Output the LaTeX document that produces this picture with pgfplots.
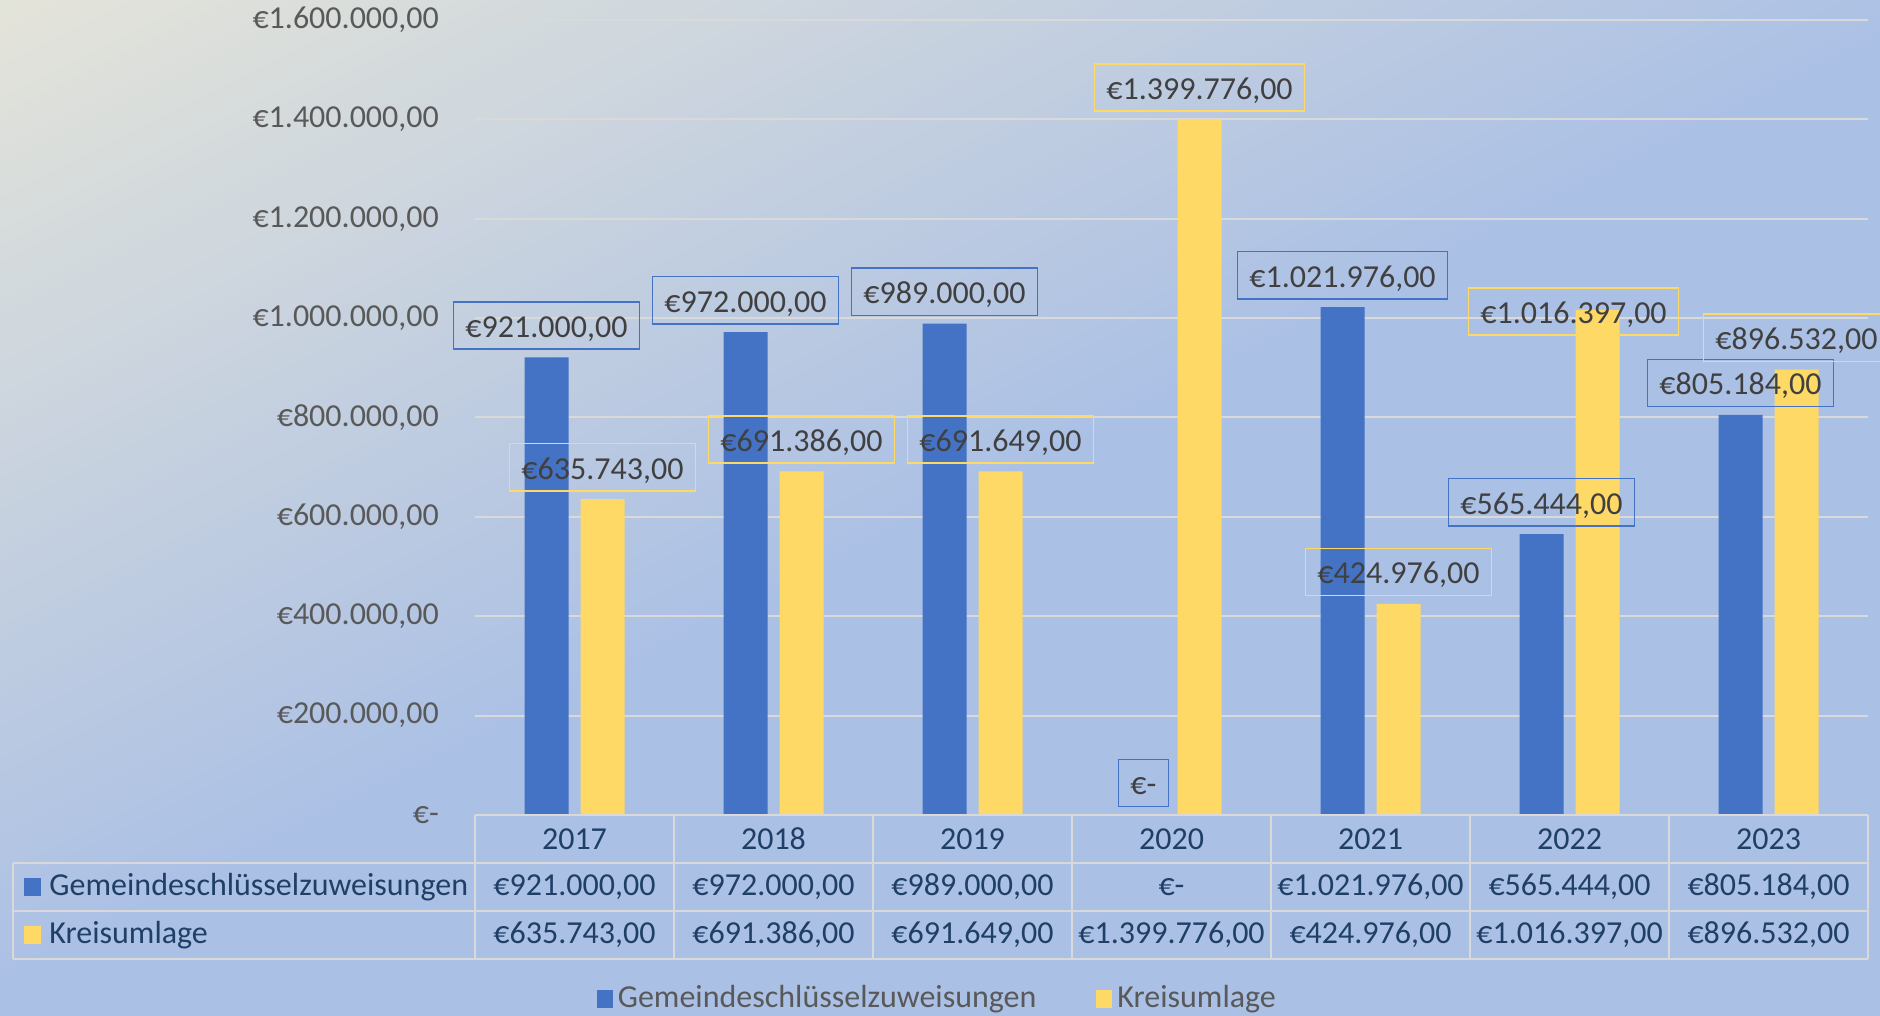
\documentclass[border=0pt]{standalone}
\usepackage{fontspec}
\setmainfont{Carlito}
\usepackage{pgfplots}
\usepackage{pgfplotstable}
\pgfplotsset{compat=1.18}

\definecolor{gsz}{HTML}{4472C4}
\definecolor{ku}{HTML}{FFD966}
\definecolor{bgA}{HTML}{E4E4D9}
\definecolor{bgB}{HTML}{ABC0E5}
\definecolor{gridc}{HTML}{D9D9D9}
\definecolor{ticktxt}{HTML}{595959}
\definecolor{lbltxt}{HTML}{404040}
\definecolor{tabtxt}{HTML}{1F3F66}

\pgfplotstableread{
x year gsz ku
0 2017 921000 635743
1 2018 972000 691386
2 2019 989000 691649
3 2020 0 1399776
4 2021 1021976 424976
5 2022 565444 1016397
6 2023 805184 896532
}\data

\newcommand\eur[1]{%
  \pgfmathfloatparse{#1}\let\eurv\pgfmathresult
  \pgfmathfloatifflags{\eurv}{0}{€-}{€\pgfmathprintnumber[fixed,fixed zerofill,precision=2,use comma,1000 sep={.},assume math mode=true]{\eurv}}}

\pgfplotsset{
  lbl/.style={
    nodes near coords={\eur{\pgfplotspointmeta}},
    every node near coord/.append style={draw=#1, line width=0.6pt, text=lbltxt,
      inner xsep=4.8pt, inner ysep=3.6pt, text height=10.6pt, text depth=1.1pt,
      anchor=south, yshift=3pt},
  },
}

\begin{document}
\fontsize{12.8pt}{15.4pt}\selectfont
\begin{tikzpicture}
% background: diagonal gradient from the top left corner, done in stripes
\begin{scope}
\clip (0,0) rectangle (752pt,406.4pt);
\fill[bgB] (0,0) rectangle (752pt,406.4pt);
\foreach \k in {0,...,59} {
  \pgfmathsetmacro\ta{\k/60}
  \pgfmathsetmacro\tb{(\k+1.3)/60}
  \pgfmathsetmacro\pc{100*(\k+0.5)/60}
  \fill[bgB!\pc!bgA] (0pt,406.4pt-396pt*\ta) -- (752pt,782.4pt-396pt*\ta)
    -- (752pt,782.4pt-396pt*\tb) -- (0pt,406.4pt-396pt*\tb) -- cycle;
}
\end{scope}

\begin{axis}[
  at={(190pt,80.4pt)}, anchor=south west,
  scale only axis, width=557.2pt, height=318pt,
  xmin=-0.5, xmax=6.5, ymin=0, ymax=1600000,
  ybar, bar width=17.6pt,
  xtick=\empty,
  ytick={0,200000,400000,600000,800000,1000000,1200000,1400000,1600000},
  scaled y ticks=false,
  yticklabel={\eur{\tick}},
  yticklabel style={text=ticktxt, xshift=-10pt},
  ymajorgrids, grid style={draw=gridc, line width=0.8pt},
  axis line style={draw=none},
  major tick length=0pt,
  clip=false,
  legend style={at={(0.333,-0.2314)}, anchor=center, draw=none, fill=none,
    text=ticktxt, legend columns=2, inner sep=0pt,
    /tikz/every even column/.append style={column sep=22pt}},
  legend image code/.code={\fill[#1] (0pt,-3.6pt) rectangle (6.4pt,3.6pt);},
]
\addplot[fill=gsz, draw=none, bar shift=-11.2pt] table[x=x,y=gsz]{\data};
\addplot[fill=ku, draw=none, bar shift=11.2pt] table[x=x,y=ku]{\data};
\legend{Gemeindeschlüsselzuweisungen, Kreisumlage}

% data labels drawn on top of all bars
\addplot[draw=none, fill=none, bar shift=-11.2pt, forget plot, lbl=gsz]
  table[x=x,y=gsz]{\data};
\addplot[draw=none, fill=none, bar shift=11.2pt, forget plot, lbl=ku,
  skip coords between index={5}{6}]
  table[x=x,y=ku]{\data};
% 2022 label was moved down onto its bar
\addplot[draw=none, fill=none, bar shift=11.2pt, forget plot, lbl=ku,
  restrict x to domain=4.5:5.5,
  every node near coord/.append style={xshift=-9.6pt, yshift=-13.4pt}]
  table[x=x,y=ku]{\data};
\end{axis}

% data table under the axis
\begin{scope}[draw=gridc, line width=1pt]
\draw (190pt,80.4pt) -- (747.2pt,80.4pt);
\foreach \yy in {61.2,42.0,22.8} \draw (5.2pt,\yy pt) -- (747.2pt,\yy pt);
\foreach \i in {0,...,7} \draw (190pt+\i*79.6pt,80.4pt) -- ++(0,-57.6pt);
\draw (5.2pt,61.2pt) -- (5.2pt,22.8pt);
\end{scope}
\fill[gsz] (9.6pt,48pt) rectangle (16.4pt,55.2pt);
\fill[ku] (9.6pt,28.8pt) rectangle (16.4pt,36pt);
\node[text=tabtxt, anchor=west, inner sep=0pt] at (19.6pt,51.6pt) {Gemeindeschlüsselzuweisungen};
\node[text=tabtxt, anchor=west, inner sep=0pt] at (19.6pt,32.4pt) {Kreisumlage};
\foreach \i in {0,...,6} {
  \pgfplotstablegetelem{\i}{year}\of\data
  \node[text=tabtxt] at (229.8pt+\i*79.6pt,70.8pt) {\pgfplotsretval};
  \pgfplotstablegetelem{\i}{gsz}\of\data
  \node[text=tabtxt] at (229.8pt+\i*79.6pt,51.6pt) {\eur{\pgfplotsretval}};
  \pgfplotstablegetelem{\i}{ku}\of\data
  \node[text=tabtxt] at (229.8pt+\i*79.6pt,32.4pt) {\eur{\pgfplotsretval}};
}

\pgfresetboundingbox
\path[use as bounding box] (0,0) rectangle (752pt,406.4pt);
\end{tikzpicture}
\end{document}
